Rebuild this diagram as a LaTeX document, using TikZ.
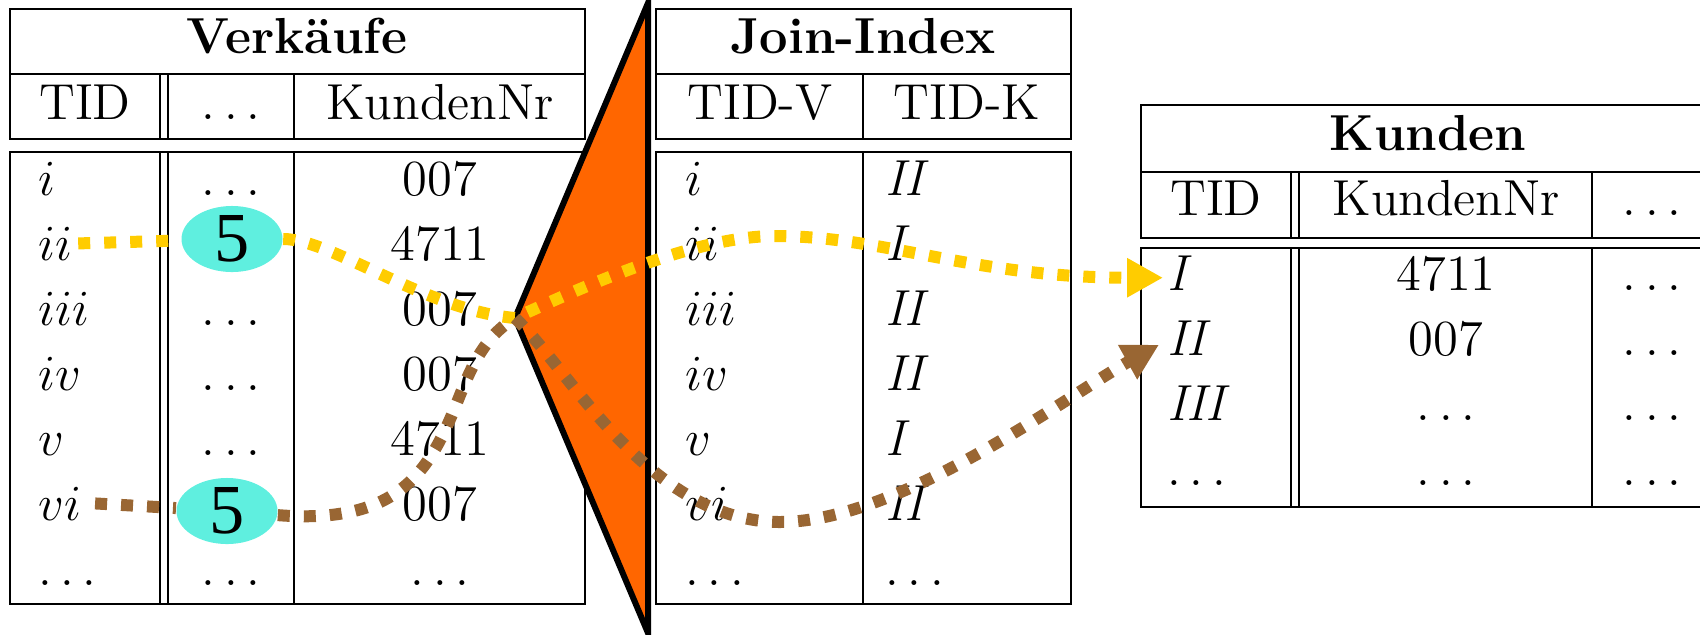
\documentclass[tikz,border=0pt]{standalone}
\usepackage{fontspec}
\newfontfamily\numfont{Liberation Serif}
\usepackage{tikz}
\usetikzlibrary{arrows.meta, shapes.geometric}
\definecolor{linkyellow}{HTML}{FFCC00}
\definecolor{linkbrown}{HTML}{996633}
\definecolor{wedge}{HTML}{FF6600}
\definecolor{hitcyan}{HTML}{5FEFDF}

\begin{document}
\begin{tikzpicture}[x=0.1mm, y=-0.1mm,
    cell/.style={font=\Large, inner sep=0pt, anchor=base},
    lcell/.style={cell, anchor=base west},
    ttl/.style={cell, font=\Large\bfseries},
    rule/.style={line width=0.6pt},
    link/.style={line width=1.2mm, dash pattern=on 1.2mm off 1.4mm},
    hitmark/.style={ellipse, fill=hitcyan, minimum width=10.1mm, minimum height=5.3mm, inner sep=0pt, font=\fontsize{20}{24}\selectfont\numfont},
    arrowhead/.style={-{Triangle[length=3.6mm, width=3.7mm]}}]
  \useasboundingbox (0,0) rectangle (1700,634);
  \clip (0,0) rectangle (1700,634);

  % Table frames
  \draw[rule] (10,9) rectangle (585,139) (10,74) -- (585,74) (10,152) rectangle (585,604);
  \foreach \x in {160,168,294}
    \draw[rule] (\x,74) -- (\x,139) (\x,152) -- (\x,604);
  \draw[rule] (656,9) rectangle (1071,139) (656,74) -- (1071,74) (656,152) rectangle (1071,604);
  \draw[rule] (863,74) -- (863,139) (863,152) -- (863,604);
  \draw[rule] (1141,105) rectangle (1712,238) (1141,172) -- (1712,172) (1141,248) rectangle (1712,507);
  \foreach \x in {1291,1299,1592}
    \draw[rule] (\x,172) -- (\x,238) (\x,248) -- (\x,507);

  % Verkaeufe
  \node[ttl] (vk) at (297,53) {Verkäufe};
  \node[cell] (vk-tid) at (85,119) {TID};
  \node[cell] (vk-etc) at (231,119) {$\ldots$};
  \node[cell] (vk-nr) at (440,119) {KundenNr};
  \foreach \tid/\nr [count=\r] in {i/007, ii/4711, iii/007, iv/007, v/4711, vi/007, \ldots/$\ldots$} {
    \node[lcell] (v\r) at (38,{195+65*(\r-1)}) {$\tid$};
    \node[cell] (vn\r) at (440,{195+65*(\r-1)}) {\nr};
  }
  \foreach \r in {1,3,4,5,7}
    \node[cell] (ve\r) at (231,{195+65*(\r-1)}) {$\ldots$};

  % Join-Index
  \node[ttl] (ji) at (863,53) {Join-Index};
  \node[cell] (ji-v) at (760,119) {TID-V};
  \node[cell] (ji-k) at (967,119) {TID-K};
  \foreach \tv/\tk [count=\r] in {i/\mathit{II}, ii/\mathit{I}, iii/\mathit{II}, iv/\mathit{II}, v/\mathit{I}, vi/\mathit{II}, \ldots/\ldots} {
    \node[lcell] (jv\r) at (685,{195+65*(\r-1)}) {$\tv$};
    \node[lcell] (jk\r) at (885,{195+65*(\r-1)}) {$\tk$};
  }

  % Kunden
  \node[ttl] (kd) at (1428,150) {Kunden};
  \node[cell] (kd-tid) at (1216,215) {TID};
  \node[cell] (kd-nr) at (1446,215) {KundenNr};
  \node[cell] (kd-etc) at (1652,215) {$\ldots$};
  \foreach \tid/\nr [count=\r] in {\mathit{I}/4711, \mathit{II}/007, \mathit{III}/$\ldots$, \ldots/$\ldots$} {
    \node[lcell] (k\r) at (1167,{290+65*(\r-1)}) {$\tid$};
    \node[cell] (kn\r) at (1446,{290+65*(\r-1)}) {\nr};
    \node[cell] (ke\r) at (1652,{290+65*(\r-1)}) {$\ldots$};
  }

  % Wedge
  \coordinate (apex) at (515,318);
  \filldraw[fill=wedge, line width=0.6mm] (648,3) -- (apex) -- (648,633) -- cycle;

  % Marks
  \node[hitmark] (f2) at (232,239) {5};
  \node[hitmark] (f6) at (227,511) {5};

  % Connections
  \draw[link, linkyellow] ([xshift=0.5mm]v2.east) -- (f2);
  \draw[link, linkyellow, arrowhead] (f2) .. controls +(100,0) and +(-90,-8) .. (apex)
    .. controls +(65,-30) and +(-80,0) .. (775,236)
    .. controls +(110,0) and +(-190,0) .. ([shift={(-4,5)}]k1.west);
  \draw[link, linkbrown] ([xshift=1.3mm]v6.east) -- (f6);
  \draw[link, linkbrown, arrowhead] (f6) .. controls +(173,14) and +(-28,70) .. (458,400)
    .. controls +(14,-35) and +(-30,18) .. (apex)
    .. controls +(55,52) and +(-130,0) .. (780,522)
    .. controls +(120,0) and +(-90,50) .. ([shift={(-8,7)}]k2.west);
\end{tikzpicture}
\end{document}
